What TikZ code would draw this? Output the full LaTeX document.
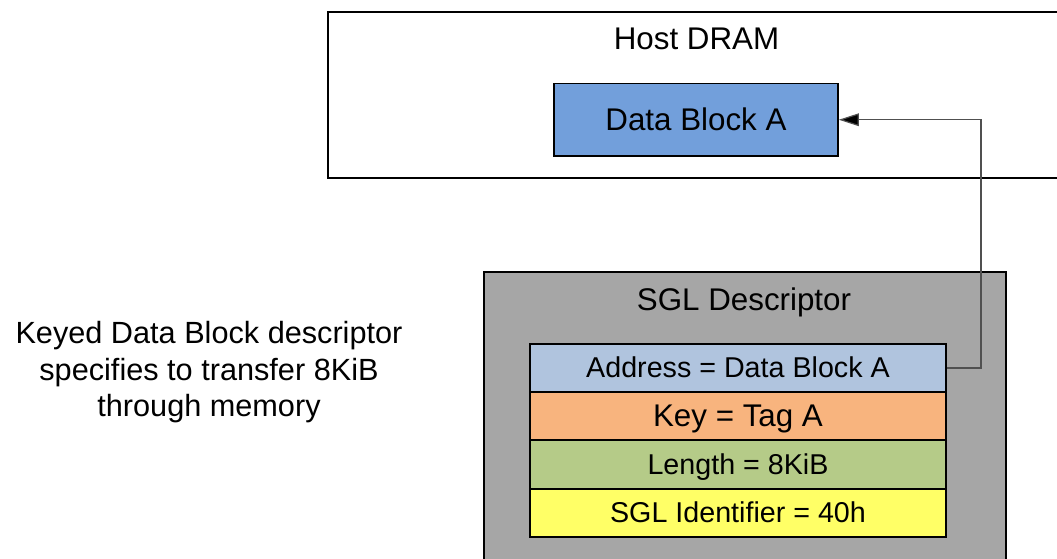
\documentclass[tikz,border=0pt]{standalone}
\usepackage{fontspec}
\setmainfont{Liberation Sans}
\usetikzlibrary{arrows.meta}
\definecolor{blockblue}{HTML}{729FDB}
\definecolor{addrblue}{HTML}{B0C4DE}
\definecolor{keyorange}{HTML}{F8B47E}
\definecolor{lengreen}{HTML}{B5CB88}
\definecolor{idyellow}{HTML}{FFFF66}
\definecolor{descgray}{HTML}{A6A6A6}
\definecolor{conngray}{HTML}{505050}
\tikzset{
  bigtext/.style={font=\fontsize{23.5pt}{28pt}\selectfont},
  smalltext/.style={font=\fontsize{21.5pt}{26pt}\selectfont},
  desctext/.style={font=\fontsize{23pt}{27.5pt}\selectfont},
  container/.style={draw=black, line width=1.3pt, rectangle, inner sep=0pt, anchor=north west},
  fieldrow/.style={draw=black, line width=1.4pt, rectangle, inner sep=0pt,
    minimum width=312pt, minimum height=36.2pt, text height=16pt, text depth=1pt},
  conn/.style={draw=conngray, line width=0.9pt, -{Triangle[length=15pt,width=9.5pt,fill=black]}}
}
\begin{document}
\begin{tikzpicture}[x=0.75pt, y=-0.75pt]
\clip (0,0) rectangle (1057,559);
\fill[white] (0,0) rectangle (1057,559);
% Host DRAM
\node[container, fill=white, minimum width=564.75pt, minimum height=124.5pt] (host) at (327,11) {};
\node[bigtext, anchor=base] (hosttitle) at (696.5,49.3) {Host DRAM};
\node[draw=black, line width=1.3pt, fill=blockblue, inner sep=0pt,
      minimum width=213pt, minimum height=54.4pt, bigtext] (dba) at (696,119.75) {Data Block A};
% SGL descriptor
\node[container, fill=descgray, minimum width=391.5pt, minimum height=231.75pt] (sgl) at (483,271) {};
\node[bigtext, anchor=base] (sgltitle) at (744,311) {SGL Descriptor};
\node[fieldrow, fill=addrblue, smalltext] (addr) at (738,368) {Address = Data Block A};
\node[fieldrow, fill=keyorange, bigtext] (key) at (738,416.3) {Key = Tag A};
\node[fieldrow, fill=lengreen, smalltext] (len) at (738,464.6) {Length = 8KiB};
\node[fieldrow, fill=idyellow, smalltext] (sglid) at (738,512.9) {SGL Identifier = 40h};
% side description
\node[desctext, anchor=base] (desc1) at (209,343.3) {Keyed Data Block descriptor};
\node[desctext, anchor=base] (desc2) at (209,380.3) {specifies to transfer 8KiB};
\node[desctext, anchor=base] (desc3) at (209,416.7) {through memory};
% connector
\coordinate (turn) at (981,119.75);
\draw[conn] (addr.east) -| (turn) -- (dba.east);
\end{tikzpicture}
\end{document}
